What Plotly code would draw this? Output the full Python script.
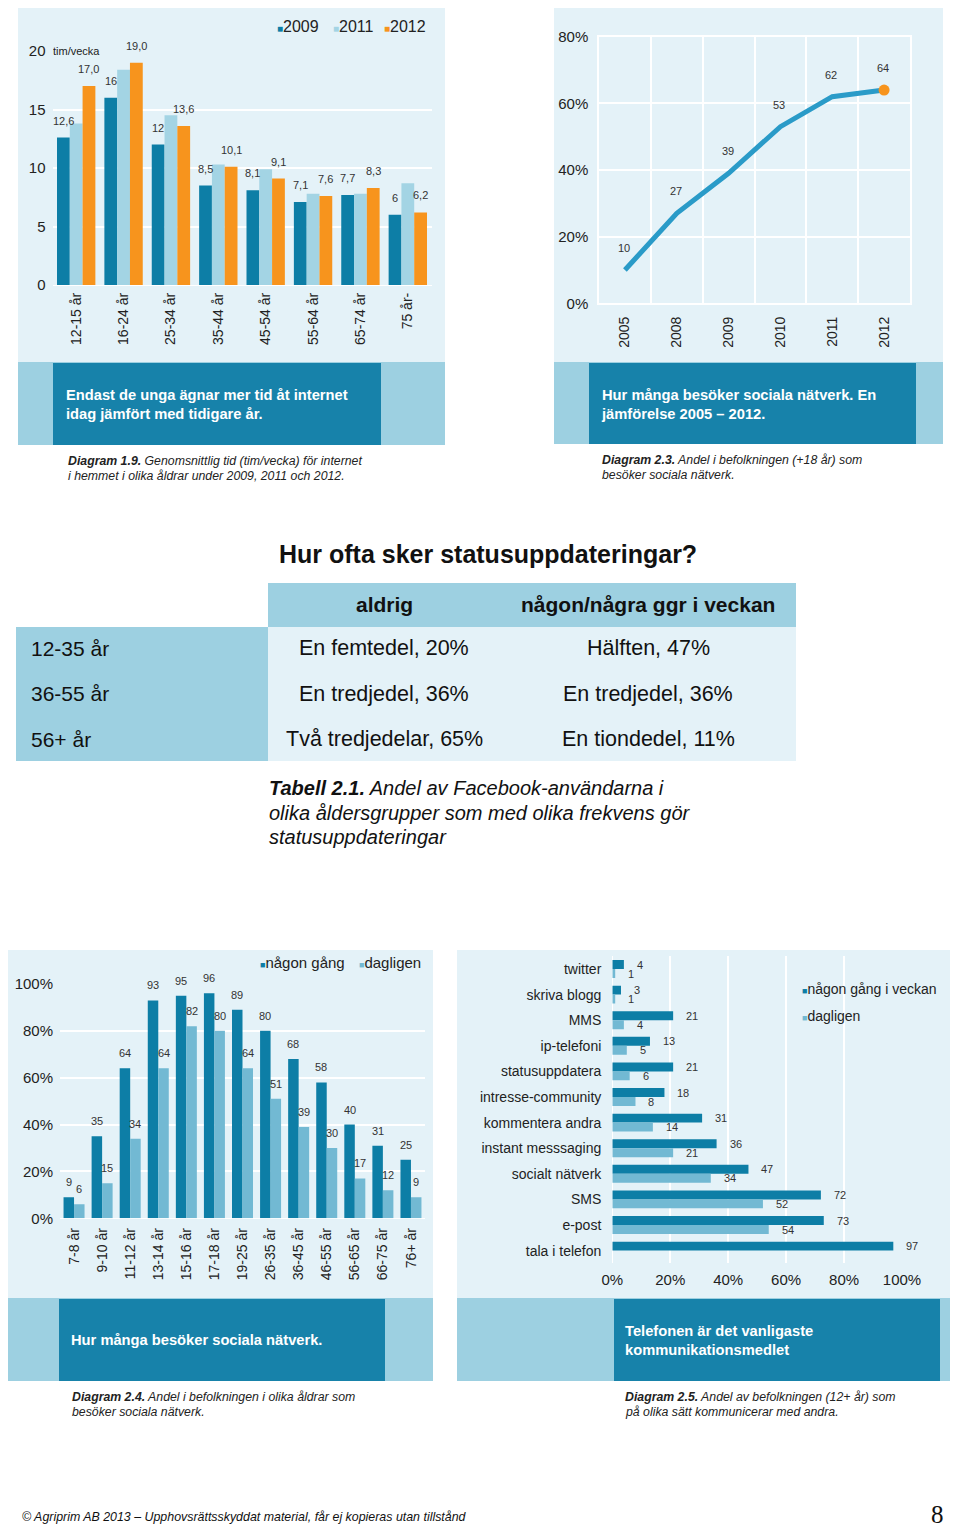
import plotly.graph_objects as go

# The page body has an 8px margin, so the figure is 8px smaller and all
# reference pixel positions are mapped with an 8px offset.
OFF = 8
W, H = 960 - OFF, 1529 - OFF
def px(x): return (x - OFF) / W
def py(y): return 1 - (y - OFF) / H

# ---------------- DATA ----------------
age1 = ["12-15 år", "16-24 år", "25-34 år", "35-44 år", "45-54 år", "55-64 år", "65-74 år", "75 år-"]
hours_2009 = [12.6, 16, 12, 8.5, 8.1, 7.1, 7.7, 6]
hours_2011 = [13.8, 18.4, 14.5, 10.3, 9.9, 7.8, 7.8, 8.7]
hours_2012 = [17.0, 19.0, 13.6, 10.1, 9.1, 7.6, 8.3, 6.2]
labels_2009 = ["12,6", "16", "12", "8,5", "8,1", "7,1", "7,7", "6"]
labels_2012 = ["17,0", "19,0", "13,6", "10,1", "9,1", "7,6", "8,3", "6,2"]
series1 = ["2009", "2011", "2012"]

years = ["2005", "2008", "2009", "2010", "2011", "2012"]
sn_share = [10, 27, 39, 53, 62, 64]

age3 = ["7-8 år", "9-10 år", "11-12 år", "13-14 år", "15-16 år", "17-18 år", "19-25 år",
        "26-35 år", "36-45 år", "46-55 år", "56-65 år", "66-75 år", "76+ år"]
sn_some = [9, 35, 64, 93, 95, 96, 89, 80, 68, 58, 40, 31, 25]
sn_daily = [6, 15, 34, 64, 82, 80, 64, 51, 39, 30, 17, 12, 9]
series3 = ["någon gång", "dagligen"]

comm = ["twitter", "skriva blogg", "MMS", "ip-telefoni", "statusuppdatera", "intresse-community",
        "kommentera andra", "instant messsaging", "socialt nätverk", "SMS", "e-post", "tala i telefon"]
comm_week = [4, 3, 21, 13, 21, 18, 31, 36, 47, 72, 73, 97]
comm_daily = [1, 1, 4, 5, 6, 8, 14, 21, 34, 52, 54, None]
series4 = ["någon gång i veckan", "dagligen"]

table_title = "Hur ofta sker statusuppdateringar?"
table_cols = ["aldrig", "någon/några ggr i veckan"]
table_rows = ["12-35 år", "36-55 år", "56+ år"]
table_never = ["En femtedel, 20%", "En tredjedel, 36%", "Två tredjedelar, 65%"]
table_weekly = ["Hälften, 47%", "En tredjedel, 36%", "En tiondedel, 11%"]

# ---------------- STYLE ----------------
FONT = "Liberation Sans, Arial, sans-serif"
BG = "#e4f2f8"
LIGHT = "#9dd0e1"
DARK = "#1782aa"
C_DARK = "#0d7ea6"
C_2011 = "#a3d4e4"
C_ORANGE = "#f7941d"
C_DAILY = "#72b9d3"
C_LINE = "#2a9bc8"
TXT = "#222222"
LBL = "#333333"

fig = go.Figure()

# ---------------- PANEL 1 ----------------
w1 = 0.27
for name, vals, col, off in zip(series1, [hours_2009, hours_2011, hours_2012],
                                [C_DARK, C_2011, C_ORANGE], [-1.5 * w1, -0.5 * w1, 0.5 * w1]):
    fig.add_trace(go.Bar(x=age1, y=vals, name=name, marker=dict(color=col, line=dict(width=0)),
                         width=w1, offset=off, xaxis="x", yaxis="y"))

# ---------------- PANEL 2 ----------------
fig.add_trace(go.Scatter(x=years, y=sn_share, mode="lines",
                         line=dict(color=C_LINE, width=5), xaxis="x2", yaxis="y2"))
fig.add_trace(go.Scatter(x=years[-1:], y=sn_share[-1:], mode="markers",
                         marker=dict(color=C_ORANGE, size=11), xaxis="x2", yaxis="y2"))

# ---------------- PANEL 3 ----------------
w3 = 0.374
for name, vals, col, off in zip(series3, [sn_some, sn_daily], [C_DARK, C_DAILY], [-w3, 0]):
    fig.add_trace(go.Bar(x=age3, y=vals, name=name, marker=dict(color=col, line=dict(width=0)),
                         width=w3, offset=off, xaxis="x3", yaxis="y3"))

# ---------------- PANEL 4 ----------------
w4 = 0.35
for name, vals, col, off in zip(series4, [comm_week, comm_daily], [C_DARK, C_DAILY], [-w4, 0]):
    fig.add_trace(go.Bar(y=comm, x=vals, name=name, orientation="h",
                         marker=dict(color=col, line=dict(width=0)),
                         width=w4, offset=off, xaxis="x4", yaxis="y4"))

shapes = []
def rect(x0, y0, x1, y1, color):
    shapes.append(dict(type="rect", xref="paper", yref="paper", x0=px(x0), x1=px(x1),
                       y0=py(y1), y1=py(y0), fillcolor=color, line=dict(width=0), layer="below"))

# panel backgrounds + bands
rect(18, 3, 445, 362, BG); rect(18, 362, 445, 445, LIGHT); rect(53, 363, 381, 445, DARK)
rect(554, 3, 943, 362, BG); rect(554, 362, 943, 444, LIGHT); rect(589, 363, 916, 444, DARK)
rect(7, 950, 433, 1298, BG); rect(7, 1298, 433, 1381, LIGHT); rect(59, 1299, 385, 1381, DARK)
rect(457, 950, 950, 1298, BG); rect(457, 1298, 950, 1381, LIGHT); rect(614, 1299, 940, 1381, DARK)
# table
rect(268, 583, 796, 627, LIGHT)
rect(16, 627, 268, 761, LIGHT)
rect(268, 627, 796, 761, BG)

ann = []
def text(x, y, s, size, color=TXT, xanchor="left", yanchor="middle", family=FONT, **kw):
    ann.append(dict(xref="paper", yref="paper", x=px(x), y=py(y), text=s, showarrow=False,
                    xanchor=xanchor, yanchor=yanchor, align="left",
                    font=dict(size=size, color=color, family=family), **kw))

# panel 1 extras
ann.append(dict(xref="paper", yref="paper", x=px(51), y=py(51), text="tim/vecka", showarrow=False,
                xanchor="left", yanchor="middle", width=60, align="left", bgcolor=BG,
                font=dict(size=11, color=TXT, family=FONT)))
for name, col, xl in zip(series1, [C_DARK, C_2011, C_ORANGE], [275, 331, 382]):
    text(xl, 27, f'<span style="color:{col};font-size:10px">■</span>{name}', 16)
for i, a in enumerate(age1):
    ann.append(dict(xref="x", yref="y", x=i, y=hours_2009[i], text=labels_2009[i], showarrow=False,
                    xshift=-12.8, yshift=17, font=dict(size=11, color=LBL, family=FONT)))
    ann.append(dict(xref="x", yref="y", x=i, y=hours_2012[i], text=labels_2012[i], showarrow=False,
                    xshift=12.8, yshift=17, font=dict(size=11, color=LBL, family=FONT)))

# panel 2 labels
for i, v in enumerate(sn_share):
    ann.append(dict(xref="x2", yref="y2", x=i, y=v, text=str(v), showarrow=False,
                    xshift=-1, yshift=22, font=dict(size=11, color=LBL, family=FONT)))

# panel 3 labels + legend
for i, a in enumerate(age3):
    ann.append(dict(xref="x3", yref="y3", x=i, y=sn_some[i], text=str(sn_some[i]), showarrow=False,
                    xshift=-5.3, yshift=15, font=dict(size=11, color=LBL, family=FONT)))
    ann.append(dict(xref="x3", yref="y3", x=i, y=sn_daily[i], text=str(sn_daily[i]), showarrow=False,
                    xshift=5.3, yshift=15, font=dict(size=11, color=LBL, family=FONT)))
for name, col, xl in zip(series3, [C_DARK, C_DAILY], [258, 357]):
    text(xl, 962, f'<span style="color:{col};font-size:9px">■</span>{name}', 15)

# panel 4 labels + legend
for i, c in enumerate(comm):
    ann.append(dict(xref="x4", yref="y4", x=comm_week[i], y=i, text=str(comm_week[i]), showarrow=False,
                    xanchor="left", xshift=11, yshift=4.5, font=dict(size=11, color=LBL, family=FONT)))
    if comm_daily[i] is not None:
        ann.append(dict(xref="x4", yref="y4", x=comm_daily[i], y=i, text=str(comm_daily[i]), showarrow=False,
                        xanchor="left", xshift=11, yshift=-4.5, font=dict(size=11, color=LBL, family=FONT)))
for name, col, yl in zip(series4, [C_DARK, C_DAILY], [989, 1016]):
    text(800, yl, f'<span style="color:{col};font-size:9px">■</span>{name}', 14)

# band texts
BAND = 14.7
text(64, 405, "<b>Endast de unga ägnar mer tid åt internet<br>idag jämfört med tidigare år.</b>", BAND, "white")
text(599, 404, "<b>Hur många besöker sociala nätverk. En<br>jämförelse 2005 – 2012.</b>", BAND, "white")
text(69, 1340, "<b>Hur många besöker sociala nätverk.</b>", BAND, "white")
text(623, 1340, "<b>Telefonen är det vanligaste<br>kommunikationsmedlet</b>", BAND, "white")

# captions
CAP = 12.3
text(66, 461, "<i><b>Diagram 1.9.</b> Genomsnittlig tid (tim/vecka) för internet</i>", CAP)
text(66, 476, "<i>i hemmet i olika åldrar under 2009, 2011 och 2012.</i>", CAP)
text(600, 460, "<i><b>Diagram 2.3.</b> Andel i befolkningen (+18 år) som</i>", CAP)
text(600, 475, "<i>besöker sociala nätverk.</i>", CAP)
text(70, 1397, "<i><b>Diagram 2.4.</b> Andel i befolkningen i olika åldrar som</i>", CAP)
text(70, 1412, "<i>besöker sociala nätverk.</i>", CAP)
text(623, 1397, "<i><b>Diagram 2.5.</b> Andel av befolkningen (12+ år) som</i>", CAP)
text(623, 1412, "<i>på olika sätt kommunicerar med andra.</i>", CAP)

# table text
text(277, 554, f"<b>{table_title}</b>", 25, "#111")
text(384, 604, f"<b>{table_cols[0]}</b>", 21, "#111", xanchor="center")
text(648, 604, f"<b>{table_cols[1]}</b>", 21, "#111", xanchor="center")
for r, yv in zip(range(3), [648, 694, 739]):
    text(29, yv, table_rows[r], 21, "#111")
    text(384, yv, table_never[r], 21.5, "#111", xanchor="center")
    text(648, yv, table_weekly[r], 21.5, "#111", xanchor="center")
text(267, 788, "<i><b>Tabell 2.1.</b> Andel av Facebook-användarna i</i>", 20, "#111")
text(267, 813, "<i>olika åldersgrupper som med olika frekvens gör</i>", 20, "#111")
text(267, 837, "<i>statusuppdateringar</i>", 20, "#111")

# footer
text(20, 1517, "<i>© Agriprim AB 2013 – Upphovsrättsskyddat material, får ej kopieras utan tillstånd</i>", 12.4, "#111")
text(945, 1514, "8", 25, "#111", xanchor="right", family="Liberation Serif, Times New Roman, serif",
     borderpad=0)

tick_font = dict(size=15, color=TXT, family=FONT)
xtick_font = dict(size=14, color=TXT, family=FONT)
common = dict(automargin=False)

fig.update_layout(
    template="none",
    width=W, height=H, margin=dict(l=0, r=0, t=0, b=0, pad=0, autoexpand=False),
    paper_bgcolor="white", plot_bgcolor="rgba(0,0,0,0)",
    showlegend=False, barmode="group",
    font=dict(family=FONT, color=TXT),
    shapes=shapes, annotations=ann,
    xaxis=dict(domain=[px(52.5), px(431.5)], anchor="y", type="category", tickangle=-90,
               showgrid=False, zeroline=False, showline=False, ticks="", tickfont=xtick_font,
               ticklabelstandoff=4, range=[-0.5, 7.5], **common),
    yaxis=dict(domain=[py(285), py(51)], anchor="x", range=[0, 20], dtick=5,
               showgrid=True, gridcolor="white", gridwidth=1.5, zeroline=True, zerolinecolor="white",
               showline=False, ticks="", tickfont=tick_font, ticklabelstandoff=6, **common),
    xaxis2=dict(domain=[px(599), px(910)], anchor="y2", type="category", tickangle=-90,
                tickson="boundaries", showgrid=True, gridcolor="white", gridwidth=1.5,
                showline=True, linecolor="white", linewidth=1.5, mirror=True,
                ticks="", tickfont=xtick_font, ticklabelstandoff=6, range=[-0.5, 5.5], **common),
    yaxis2=dict(domain=[py(303.3), py(36.7)], anchor="x2", range=[0, 80], dtick=20, ticksuffix="%",
                showgrid=True, gridcolor="white", gridwidth=1.5, zeroline=False,
                showline=True, linecolor="white", linewidth=1.5, mirror=True,
                ticks="", tickfont=tick_font, ticklabelstandoff=6, **common),
    xaxis3=dict(domain=[px(60), px(425)], anchor="y3", type="category", tickangle=-90,
                showgrid=False, zeroline=False, showline=False, ticks="", tickfont=xtick_font,
                ticklabelstandoff=6, range=[-0.5, 12.5], **common),
    yaxis3=dict(domain=[py(1218.3), py(984)], anchor="x3", range=[0, 100], dtick=20, ticksuffix="%",
                showgrid=True, gridcolor="white", gridwidth=1.5, zeroline=True, zerolinecolor="white",
                showline=False, ticks="", tickfont=tick_font, ticklabelstandoff=6, **common),
    xaxis4=dict(domain=[px(612.3), px(902)], anchor="y4", range=[0, 100], dtick=20, ticksuffix="%",
                showgrid=True, gridcolor="white", gridwidth=1.5, zeroline=True, zerolinecolor="white",
                showline=False, ticks="", tickfont=tick_font, ticklabelstandoff=6, **common),
    yaxis4=dict(domain=[py(1263.4), py(956.2)], anchor="x4", type="category", range=[11.5, -0.5],
                showgrid=False, zeroline=False, showline=False, ticks="",
                tickfont=dict(size=14, color=TXT, family=FONT), ticklabelstandoff=10, **common),
)

fig.write_html("out.html")
